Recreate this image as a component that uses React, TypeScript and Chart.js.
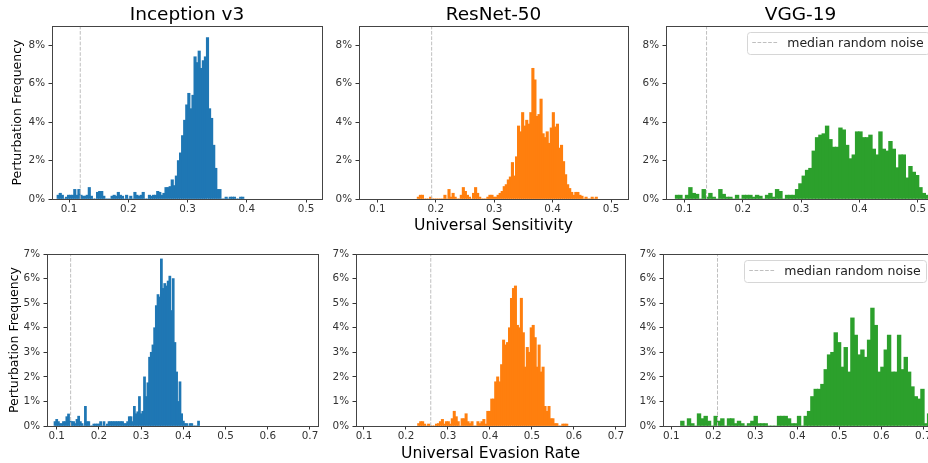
import React, { useEffect, useRef } from 'react';
import { Chart, registerables } from 'chart.js';

Chart.register(...registerables);

// ---------- data ----------
const MODELS = ['Inception v3', 'ResNet-50', 'VGG-19'];
const COLORS = ['#1f77b4', '#ff7f0e', '#2ca02c'];

const SENS_X_TICKS = [0.1, 0.2, 0.3, 0.4, 0.5];
const EVAS_X_TICKS = [0.1, 0.2, 0.3, 0.4, 0.5, 0.6, 0.7];
const SENS_Y_TICKS = [0, 2, 4, 6, 8];
const EVAS_Y_TICKS = [0, 1, 2, 3, 4, 5, 6, 7];

const SENS_LABEL = 'Universal Sensitivity';
const EVAS_LABEL = 'Universal Evasion Rate';
const Y_LABEL = 'Perturbation Frequency';
const LEGEND_LABEL = 'median random noise';

// median random noise (dashed lines)
const medianSensitivity = [0.119, 0.193, 0.138];
const medianEvasion = [0.133, 0.259, 0.21];

// histogram bins: first bin edge, bin width, heights in %
const sensInceptionStart = 0.08;
const sensInceptionWidth = 0.0035;
const sensInception = [
  0.2, 0.3, 0.2, 0, 0.1, 0.2, 0.2, 0.2, 0.5, 0.2,
  0.5, 0.2, 0.15, 0.15, 0.2, 0.6, 0.15, 0, 0, 0.35,
  0.4, 0.4, 0.15, 0, 0, 0, 0.15, 0.2, 0.15, 0.35,
  0.2, 0.15, 0, 0.2, 0, 0.15, 0, 0.35, 0.2, 0.15,
  0.2, 0.35, 0, 0, 0.2, 0.15, 0.2, 0.2, 0.4, 0.35,
  0.2, 0.3, 0.6, 0.6, 0.65, 1.0, 0.7, 1.2, 2.0, 2.4,
  3.3, 4.1, 4.9, 5.5, 4.7, 5.4, 7.4, 7.1, 7.7, 6.8,
  7.2, 7.4, 8.4, 4.7, 4.2, 2.8, 1.6, 0.5, 0.5, 0,
  0, 0.1, 0, 0.1, 0.1, 0.1, 0, 0, 0.1, 0.1,
];

const sensResNetStart = 0.1685;
const sensResNetWidth = 0.0035;
const sensResNet = [
  0.1, 0.2, 0.2, 0, 0, 0, 0.1, 0, 0, 0,
  0, 0, 0, 0.2, 0, 0.5, 0.1, 0.3, 0.1, 0,
  0, 0.2, 0.6, 0.4, 0.2, 0.1, 0, 0.3, 0.6, 0.3,
  0.1, 0, 0, 0, 0.1, 0.2, 0.2, 0.1, 0.1, 0.2,
  0.3, 0.4, 0.65, 0.75, 1.0, 1.15, 1.9, 1.2, 2.2, 3.8,
  3.5, 4.5, 3.8, 4.1, 3.9, 4.5, 6.8, 6.2, 4.3, 4.4,
  5.2, 3.4, 3.2, 3.5, 2.9, 3.7, 4.5, 3.75, 3.9, 2.65,
  2.8, 1.95, 1.27, 0.75, 0.55, 0.35, 0.2, 0.35, 0.35, 0.2,
  0.15, 0, 0.1, 0, 0, 0.1, 0, 0.1,
];

const sensVGGStart = 0.0846;
const sensVGGWidth = 0.005714;
const sensVGG = [
  0.2, 0.2, 0, 0.2, 0.6, 0.3, 0.25, 0, 0.5, 0.1,
  0.3, 0.1, 0, 0.5, 0.25, 0.1, 0.1, 0, 0.2, 0,
  0.2, 0.2, 0.2, 0.1, 0.2, 0.15, 0, 0.2, 0.3, 0.1,
  0.5, 0.4, 0, 0.2, 0.2, 0.2, 0.5, 0.8, 1.2, 1.5,
  1.6, 2.5, 3.2, 3.33, 3.4, 3.8, 3.1, 2.7, 2.7, 3.7,
  3.6, 2.8, 2.1, 2.3, 3.5, 3.5, 3.2, 3.2, 3.33, 2.6,
  2.3, 3.5, 2.6, 2.5, 3.0, 2.6, 1.63, 2.3, 2.3, 1.1,
  1.7, 1.4, 1.23, 0.6, 0.3, 0.2, 0.15,
];

const evasInceptionStart = 0.094;
const evasInceptionWidth = 0.004;
const evasInception = [
  0.18, 0.27, 0.18, 0.1, 0.1, 0.18, 0.18, 0.38, 0.49, 0.2,
  0.18, 0.18, 0.1, 0.27, 0.4, 0.18, 0.1, 0, 0.8, 0.18,
  0.18, 0, 0, 0.08, 0.08, 0.08, 0.08, 0.18, 0, 0.18,
  0, 0.08, 0.18, 0.18, 0.18, 0.18, 0.18, 0.18, 0.18, 0.18,
  0.18, 0.1, 0.1, 0.18, 0.38, 0.38, 0.18, 0.8, 0.5, 0.58,
  1.2, 0.5, 0.6, 2.0, 1.2, 1.76, 2.8, 3.0, 3.3, 4.0,
  4.9, 5.35, 5.25, 6.8, 5.6, 5.8, 5.7, 5.9, 6.1, 4.7,
  6.0, 3.4, 2.2, 1.0, 1.8, 0.5, 0.2, 0.1, 0.1, 0,
  0.1, 0.1, 0, 0, 0, 0.2,
];

const evasResNetStart = 0.228;
const evasResNetWidth = 0.0047;
const evasResNet = [
  0.1, 0.18, 0.18, 0.08, 0, 0.08, 0, 0, 0, 0.08,
  0.1, 0.18, 0.27, 0.08, 0.18, 0.18, 0.08, 0.3, 0.6, 0.38,
  0.18, 0, 0.3, 0.3, 0.5, 0.18, 0.1, 0.18, 0, 0,
  0.18, 0.1, 0.18, 0.27, 0.08, 0.6, 0.6, 1.1, 1.1, 1.8,
  2.0, 1.8, 2.5, 3.5, 3.3, 3.4, 4.0, 5.2, 5.6, 5.7,
  4.1, 4.0, 5.2, 3.8, 2.4, 3.2, 3.0, 4.0, 4.1, 3.6,
  2.4, 3.3, 2.2, 2.4, 0.8, 0.6, 0.8, 0.3, 0.3, 0.1,
  0.1, 0, 0, 0.08, 0.08, 0.08,
];

const evasVGGStart = 0.1223;
const evasVGGWidth = 0.00794;
const evasVGG = [
  0.2, 0, 0.3, 0.1, 0, 0.5, 0.3, 0.4, 0.2, 0,
  0.4, 0.2, 0.3, 0, 0.3, 0.3, 0.1, 0.2, 0.1, 0,
  0.1, 0.2, 0.4, 0.1, 0.1, 0.1, 0, 0, 0, 0.4,
  0.4, 0.4, 0.3, 0.1, 0.1, 0.4, 0, 0.4, 0.6, 1.2,
  1.5, 1.5, 1.7, 2.3, 2.9, 3.0, 3.8, 3.4, 2.4, 3.2,
  2.2, 4.4, 3.7, 2.9, 3.1, 2.8, 3.5, 4.8, 4.1, 2.2,
  2.4, 3.1, 3.7, 2.2, 2.2, 3.7, 2.3, 2.8, 2.2, 1.6,
  1.2, 1.1, 1.5, 0.1, 0.5, 0.3, 0.2,
];

// ---------- layout ----------
const CANVAS_W = 940;
const CANVAS_H = 463;
const Y_AXIS_W = 40;
const X_AXIS_H = 20;
const SEAM_OVERLAP = 0.4;
const FONT = '"DejaVu Sans", "Liberation Sans", sans-serif';

type Panel = {
  title?: string;
  xLabel?: string;
  yLabel?: boolean;
  legend?: boolean;
  area: { left: number; top: number; right: number; bottom: number };
  xMin: number;
  xMax: number;
  yMax: number;
  xTicks: number[];
  yTicks: number[];
  start: number;
  width: number;
  values: number[];
  median: number;
  color: string;
  titleY: number;
  xLabelY: number;
  yLabelX: number;
};

const PANELS: Panel[] = [
  { title: MODELS[0], yLabel: true, area: { left: 52, top: 26, right: 322, bottom: 199 }, xMin: 0.0713, xMax: 0.527, yMax: 9, xTicks: SENS_X_TICKS, yTicks: SENS_Y_TICKS, start: sensInceptionStart, width: sensInceptionWidth, values: sensInception, median: medianSensitivity[0], color: COLORS[0], titleY: 20, xLabelY: 230, yLabelX: 21 },
  { title: MODELS[1], xLabel: SENS_LABEL, area: { left: 359, top: 26, right: 628, bottom: 199 }, xMin: 0.0687, xMax: 0.529, yMax: 9, xTicks: SENS_X_TICKS, yTicks: SENS_Y_TICKS, start: sensResNetStart, width: sensResNetWidth, values: sensResNet, median: medianSensitivity[1], color: COLORS[1], titleY: 20, xLabelY: 230, yLabelX: 0 },
  { title: MODELS[2], legend: true, area: { left: 666, top: 26, right: 935, bottom: 199 }, xMin: 0.0685, xMax: 0.5295, yMax: 9, xTicks: SENS_X_TICKS, yTicks: SENS_Y_TICKS, start: sensVGGStart, width: sensVGGWidth, values: sensVGG, median: medianSensitivity[2], color: COLORS[2], titleY: 20, xLabelY: 230, yLabelX: 0 },
  { yLabel: true, area: { left: 47, top: 254, right: 318, bottom: 426 }, xMin: 0.077, xMax: 0.719, yMax: 7, xTicks: EVAS_X_TICKS, yTicks: EVAS_Y_TICKS, start: evasInceptionStart, width: evasInceptionWidth, values: evasInception, median: medianEvasion[0], color: COLORS[0], titleY: 0, xLabelY: 458, yLabelX: 17.5 },
  { xLabel: EVAS_LABEL, area: { left: 356, top: 254, right: 625, bottom: 426 }, xMin: 0.081, xMax: 0.7215, yMax: 7, xTicks: EVAS_X_TICKS, yTicks: EVAS_Y_TICKS, start: evasResNetStart, width: evasResNetWidth, values: evasResNet, median: medianEvasion[1], color: COLORS[1], titleY: 0, xLabelY: 458, yLabelX: 0 },
  { legend: true, area: { left: 663, top: 254, right: 932, bottom: 426 }, xMin: 0.0802, xMax: 0.7207, yMax: 7, xTicks: EVAS_X_TICKS, yTicks: EVAS_Y_TICKS, start: evasVGGStart, width: evasVGGWidth, values: evasVGG, median: medianEvasion[2], color: COLORS[2], titleY: 0, xLabelY: 458, yLabelX: 0 },
];

function decorPlugin(p: Panel) {
  return {
    id: 'decor',
    afterDraw(chart: any) {
      const ctx: CanvasRenderingContext2D = chart.ctx;
      const a = chart.chartArea;
      ctx.save();
      // spines
      ctx.strokeStyle = '#444';
      ctx.lineWidth = 1;
      ctx.setLineDash([]);
      ctx.strokeRect(Math.floor(a.left) + 0.5, Math.floor(a.top) + 0.5, Math.round(a.right - a.left), Math.round(a.bottom - a.top));
      const cx = (a.left + a.right) / 2;
      const cy = (a.top + a.bottom) / 2;
      ctx.fillStyle = '#000';
      ctx.textBaseline = 'alphabetic';
      if (p.title) {
        ctx.font = `18.5px ${FONT}`;
        ctx.textAlign = 'center';
        ctx.fillText(p.title, cx, p.titleY);
      }
      if (p.xLabel) {
        ctx.font = `15.6px ${FONT}`;
        ctx.textAlign = 'center';
        ctx.fillText(p.xLabel, cx, p.xLabelY);
      }
      if (p.yLabel) {
        ctx.save();
        ctx.translate(p.yLabelX, cy);
        ctx.rotate(-Math.PI / 2);
        ctx.font = `12.5px ${FONT}`;
        ctx.textAlign = 'center';
        ctx.fillText(Y_LABEL, 0, 0);
        ctx.restore();
      }
      if (p.legend) {
        ctx.font = `12.5px ${FONT}`;
        const tw = ctx.measureText(LEGEND_LABEL).width;
        const w = 5 + 25 + 10 + tw + 5;
        const h = 22;
        const x0 = a.right - 6.25 - w;
        const y0 = a.top + 6.25;
        ctx.beginPath();
        (ctx as any).roundRect(Math.round(x0) + 0.5, Math.round(y0) + 0.5, Math.round(w), Math.round(h), 3);
        ctx.fillStyle = 'rgba(255,255,255,0.8)';
        ctx.fill();
        ctx.strokeStyle = '#d6d6d6';
        ctx.stroke();
        const ly = Math.round(y0 + h / 2) - 0.5;
        ctx.beginPath();
        ctx.setLineDash([3.7, 1.6]);
        ctx.strokeStyle = '#bfbfbf';
        ctx.moveTo(x0 + 5, ly);
        ctx.lineTo(x0 + 30, ly);
        ctx.stroke();
        ctx.setLineDash([]);
        ctx.fillStyle = '#222';
        ctx.textAlign = 'left';
        ctx.textBaseline = 'middle';
        ctx.fillText(LEGEND_LABEL, x0 + 40, y0 + h / 2);
      }
      ctx.restore();
    },
  };
}

function makeChart(canvas: HTMLCanvasElement, p: Panel) {
  const barData = p.values.map((v, i) => ({ x: p.start + p.width * (i + 0.5), y: v }));
  const pxPerUnit = (p.area.right - p.area.left) / (p.xMax - p.xMin);
  const grid = { display: true, drawOnChartArea: false, drawTicks: true, tickLength: 3.5, color: '#333', lineWidth: 1, offset: false };
  const tickFont = { family: FONT, size: 10.4 };
  return new Chart(canvas, {
    type: 'bar',
    data: {
      datasets: [
        {
          type: 'line',
          data: [{ x: p.median, y: 0 }, { x: p.median, y: p.yMax }],
          borderColor: '#bfbfbf',
          borderWidth: 1,
          borderDash: [3.7, 1.6],
          pointRadius: 0,
          fill: false,
          order: 1,
        } as any,
        {
          type: 'bar',
          data: barData,
          backgroundColor: p.color,
          borderWidth: 0,
          barThickness: p.width * pxPerUnit + SEAM_OVERLAP,
          order: 2,
        } as any,
      ],
    },
    options: {
      responsive: false,
      animation: false,
      devicePixelRatio: 1,
      events: [],
      layout: {
        padding: {
          left: p.area.left - Y_AXIS_W,
          top: p.area.top,
          right: CANVAS_W - p.area.right,
          bottom: CANVAS_H - p.area.bottom - X_AXIS_H,
        },
      },
      plugins: { legend: { display: false }, tooltip: { enabled: false }, title: { display: false } },
      scales: {
        x: {
          type: 'linear',
          min: p.xMin,
          max: p.xMax,
          offset: false,
          grid,
          border: { display: false },
          afterFit: (s: any) => { s.height = X_AXIS_H; },
          afterBuildTicks: (s: any) => { s.ticks = p.xTicks.map((v) => ({ value: v })); },
          ticks: {
            autoSkip: false,
            maxRotation: 0,
            minRotation: 0,
            padding: 1,
            color: '#333',
            font: tickFont,
            callback: (v: any) => Number(v).toFixed(1),
          },
        },
        y: {
          type: 'linear',
          min: 0,
          max: p.yMax,
          grid,
          border: { display: false },
          afterFit: (s: any) => { s.width = Y_AXIS_W; },
          afterBuildTicks: (s: any) => { s.ticks = p.yTicks.map((v) => ({ value: v })); },
          ticks: {
            padding: 3.5,
            color: '#333',
            font: tickFont,
            callback: (v: any) => `${v}%`,
          },
        },
      },
    } as any,
    plugins: [decorPlugin(p)],
  });
}

export default function App() {
  const refs = useRef<(HTMLCanvasElement | null)[]>([]);
  useEffect(() => {
    const charts = PANELS.map((p, i) => makeChart(refs.current[i] as HTMLCanvasElement, p));
    return () => charts.forEach((c) => c.destroy());
  }, []);
  return (
    <div style={{ position: 'fixed', left: 0, top: 0, width: 928, height: 463, overflow: 'hidden', background: '#fff' }}>
      {PANELS.map((_, i) => (
        <canvas
          key={i}
          ref={(el) => { refs.current[i] = el; }}
          width={CANVAS_W}
          height={CANVAS_H}
          style={{ position: 'absolute', left: 0, top: 0, width: CANVAS_W, height: CANVAS_H }}
        />
      ))}
    </div>
  );
}
